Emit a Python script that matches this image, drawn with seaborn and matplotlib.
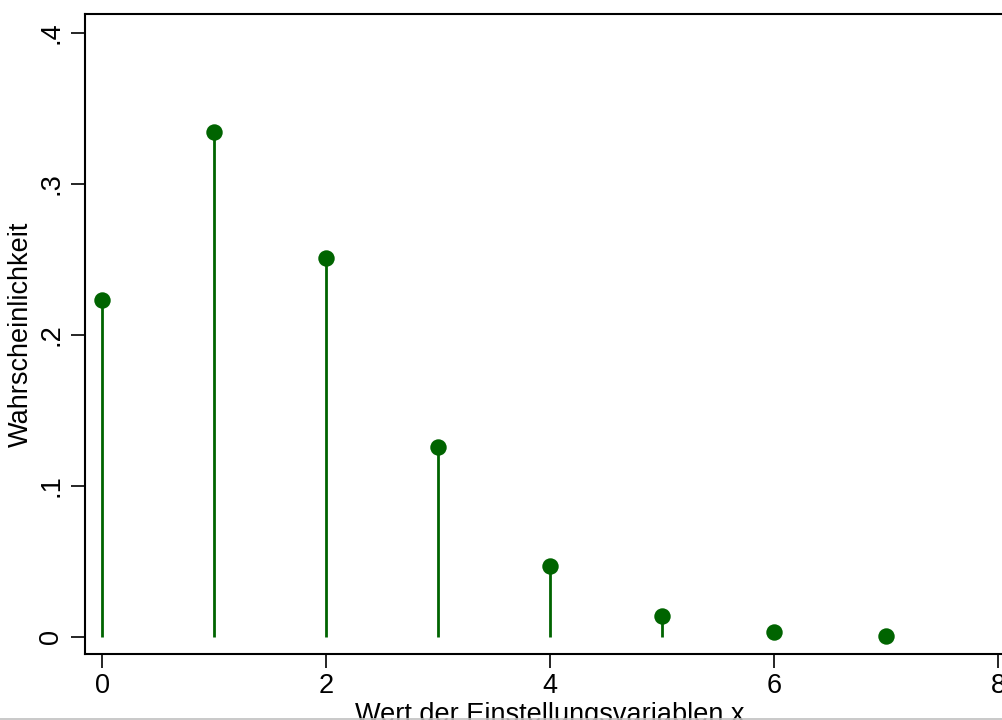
import matplotlib
matplotlib.use("Agg")
import matplotlib.pyplot as plt
from matplotlib.lines import Line2D
import seaborn as sns
import pandas as pd

# Data
x_values = [0, 1, 2, 3, 4, 5, 6, 7]
probabilities = [0.2231, 0.3347, 0.2510, 0.1255, 0.0471, 0.0141, 0.0035, 0.0008]
x_ticks = [0, 2, 4, 6, 8]
y_ticks = [0, 0.1, 0.2, 0.3, 0.4]
y_tick_labels = ["0", ".1", ".2", ".3", ".4"]
x_label = "Wert der Einstellungsvariablen x"
y_label = "Wahrscheinlichkeit"

df = pd.DataFrame({"x": x_values, "p": probabilities})

sns.set_style("white")
plt.rcParams["font.family"] = ["Liberation Sans", "DejaVu Sans"]
plt.rcParams["text.color"] = "black"
plt.rcParams["axes.labelcolor"] = "black"
plt.rcParams["xtick.color"] = "black"
plt.rcParams["ytick.color"] = "black"

W, H = 1002, 720
fig = plt.figure(figsize=(W / 100, H / 100), dpi=100)
# axes box: left 85px, right ~1015px (cropped), top 14px, bottom 654px
left, right, top, bottom = 85, 1015, 14, 654
ax = fig.add_axes([left / W, 1 - bottom / H, (right - left) / W, (bottom - top) / H])

green = "#006400"
ax.vlines(df["x"], 0, df["p"], color=green, linewidth=2.0, zorder=2)
sns.scatterplot(data=df, x="x", y="p", ax=ax, color=green, s=140,
                edgecolor=green, linewidth=0, zorder=3, legend=False)

ax.set_xlim(-0.152, 8.152)
ax.set_ylim(-0.0113, 0.4126)
ax.set_xticks(x_ticks)
ax.set_xticklabels([str(t) for t in x_ticks])
ax.set_yticks(y_ticks)
ax.set_yticklabels(y_tick_labels, rotation=90, va="center")

for s in ax.spines.values():
    s.set_linewidth(1.5)
    s.set_color("black")

ax.tick_params(axis="both", which="major", direction="out", length=10,
               width=1.2, color="black", labelcolor="black", labelsize=19.5,
               bottom=True, left=True, pad=4)
ax.tick_params(axis="y", pad=5)

ax.set_xlabel(x_label, fontsize=19.5, labelpad=2, color="black")
ax.set_ylabel(y_label, fontsize=19.5, labelpad=3, color="black")

# thin grey border line at very bottom
fig.add_artist(Line2D([0, 1], [0.6 / H, 0.6 / H], transform=fig.transFigure,
                      color="#c0c0c0", linewidth=1.2))

fig.savefig("out.png", dpi=100)
